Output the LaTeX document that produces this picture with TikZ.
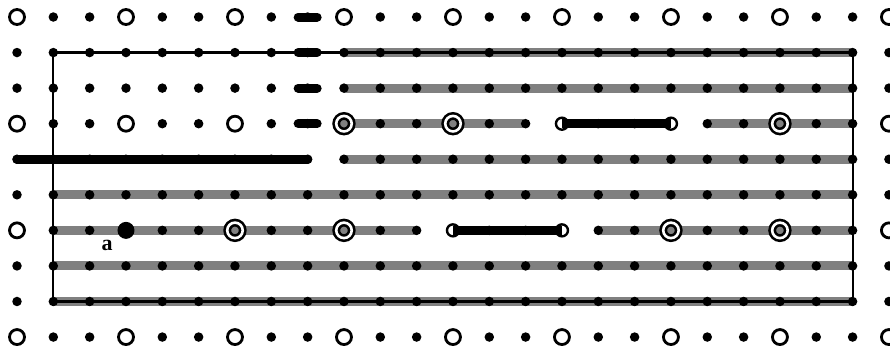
\documentclass[tikz,border=0pt]{standalone}
\usepackage{fontspec}
\setmainfont{Liberation Serif}
\begin{document}
\begin{tikzpicture}[x=1pt,y=-1pt,
  grayline/.style={draw=gray,line width=9pt},
  frame/.style={draw=black,line width=2.2pt},
  dot/.style={circle,fill=black,inner sep=0pt,minimum size=9.5pt},
  ring/.style={circle,draw=black,line width=2.8pt,fill=white,inner sep=0pt,minimum size=15pt},
  endring/.style={circle,draw=black,line width=2.4pt,fill=white,inner sep=0pt,minimum size=12pt},
  dring/.style={circle,draw=black,double=white,line width=2.6pt,double distance=2.6pt,fill=gray,inner sep=0pt,minimum size=15.5pt},
  bigdot/.style={circle,fill=black,inner sep=0pt,minimum size=17pt},
  bar/.style={draw=black,line width=9pt,line cap=round},
  seg/.style={draw=black,line width=9pt}]
\useasboundingbox (0,0) rectangle (890,349);
\foreach \i in {0,...,24}{\foreach \j in {0,...,9}{
  \coordinate (p-\i-\j) at ({17+36.33*\i},{17+35.56*\j});}}
% gray lines
\foreach \a/\b/\r in {9/23/1,9/23/2,9/14/3,19/23/3,9/23/4,1/23/5,1/11/6,16/23/6,1/23/7,1/23/8}
  \draw[grayline] (p-\a-\r) -- (p-\b-\r);
% frame
\draw[frame] (p-1-1) rectangle (p-23-8);
% lattice
\foreach \i in {0,...,24}{\foreach \j in {0,...,9}{
  \pgfmathtruncatemacro\m{(mod(\i,3)==0)&&(mod(\j,3)==0)}
  \pgfmathtruncatemacro\s{((\j==3)&&(\i>=9)&&(\i<=21))||((\j==6)&&(\i>=3)&&(\i<=21))}
  \ifnum\m=0
    \node[dot] (n-\i-\j) at (p-\i-\j) {};
  \else
    \ifnum\s=0
      \node[ring] (n-\i-\j) at (p-\i-\j) {};
    \fi
  \fi
}}
% short bars in column 8
\foreach \r in {0,...,3}
  \draw[bar] ([xshift=-9.5pt]p-8-\r) -- ([xshift=9.5pt]p-8-\r);
% long bar row 4
\draw[bar] (p-0-4) -- (p-8-4);
% segments with end rings
\node[endring] (e1) at (p-15-3) {};
\node[endring] (e2) at (p-18-3) {};
\node[endring] (e3) at (p-12-6) {};
\node[endring] (e4) at (p-15-6) {};
\draw[seg] (e1.center) -- (e2.center);
\draw[seg] (e3.center) -- (e4.center);
% double rings
\foreach \i/\j in {9/3,12/3,21/3,6/6,9/6,18/6,21/6}
  \node[dring] (d-\i-\j) at (p-\i-\j) {};
% big dot and label
\node[bigdot] (big) at (p-3-6) {};
\node[inner sep=0pt,font=\fontsize{22}{22}\selectfont\bfseries] (lbl) at (107,245) {a};
\end{tikzpicture}
\end{document}
